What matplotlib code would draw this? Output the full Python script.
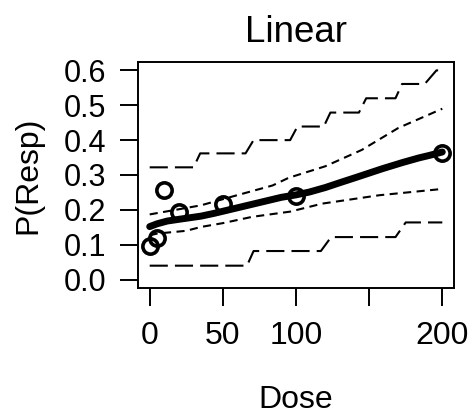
import matplotlib.pyplot as plt

plt.rcParams['font.family'] = ['Liberation Sans', 'DejaVu Sans']

# observed response rates
dose_obs = [0, 5, 10, 20, 50, 100, 200]
p_obs = [0.097, 0.118, 0.258, 0.194, 0.218, 0.239, 0.363]

# fitted mean curve
dose_fit = [0, 5, 12, 20, 35, 44, 57, 76, 90, 100, 109, 120, 130, 141, 159, 173, 184, 191, 200]
p_fit = [0.152, 0.160, 0.168, 0.173, 0.182, 0.190, 0.203, 0.222, 0.236, 0.243,
         0.251, 0.264, 0.278, 0.293, 0.318, 0.336, 0.349, 0.356, 0.366]

# inner band (short dashes)
dose_in_hi = [0, 35, 58, 84, 95, 120, 145, 170, 200]
p_in_hi = [0.187, 0.213, 0.240, 0.270, 0.292, 0.325, 0.372, 0.435, 0.490]
dose_in_lo = [0, 5, 25, 35, 50, 70, 96, 118, 157, 200]
p_in_lo = [0.127, 0.132, 0.140, 0.151, 0.162, 0.180, 0.195, 0.218, 0.242, 0.260]

# outer band (long dashes, stepped)
dose_out_hi = [0, 30, 34.5, 65.5, 71, 96, 101, 119, 123.5, 143, 148, 168, 172.5, 188, 196, 200]
p_out_hi = [0.322, 0.322, 0.362, 0.362, 0.400, 0.400, 0.439, 0.439, 0.479, 0.479,
            0.520, 0.520, 0.561, 0.561, 0.600, 0.600]
dose_out_lo = [0, 66.5, 71, 117, 124, 168, 175, 200]
p_out_lo = [0.040, 0.040, 0.082, 0.082, 0.122, 0.122, 0.164, 0.164]

xticks = [0, 50, 100, 150, 200]
xticklabels = ['0', '50', '100', '', '200']
yticks = [0.0, 0.1, 0.2, 0.3, 0.4, 0.5, 0.6]

fig = plt.figure(figsize=(4.74, 4.16), dpi=100)
ax = fig.add_axes([138 / 474, 1 - 288 / 416, 316 / 474, 226 / 416])

ax.plot(dose_out_hi, p_out_hi, color='black', lw=1.5, linestyle=(0, (8.7, 3.4)))
ax.plot(dose_out_lo, p_out_lo, color='black', lw=1.5, linestyle=(0, (8.7, 3.4)))
ax.plot(dose_in_hi, p_in_hi, color='black', lw=1.5, linestyle=(0, (3.9, 2.6)))
ax.plot(dose_in_lo, p_in_lo, color='black', lw=1.5, linestyle=(0, (3.9, 2.6)))
ax.plot(dose_fit, p_fit, color='black', lw=5, solid_capstyle='round', solid_joinstyle='round')
ax.plot(dose_obs, p_obs, 'o', mfc='none', mec='black', ms=11, mew=2.6)

ax.set_xlim(-8, 208)
ax.set_ylim(-0.024, 0.624)
ax.set_xticks(xticks)
ax.set_xticklabels(xticklabels, fontsize=23)
ax.set_yticks(yticks)
ax.set_yticklabels([f'{v:.1f}' for v in yticks], fontsize=22)
ax.tick_params(direction='out', length=13, width=1.4)
ax.tick_params(axis='x', pad=11)
ax.tick_params(axis='y', pad=10)
for s in ax.spines.values():
    s.set_linewidth(1.4)

ax.set_title('Linear', fontsize=26.5, pad=14.5)
ax.set_xlabel('Dose', fontsize=23, va='center')
ax.set_ylabel('P(Resp)', fontsize=23, va='center')
ax.xaxis.set_label_coords(0.5, -0.496)
ax.yaxis.set_label_coords(-0.348, 0.5)

fig.savefig('out.png', dpi=100)
